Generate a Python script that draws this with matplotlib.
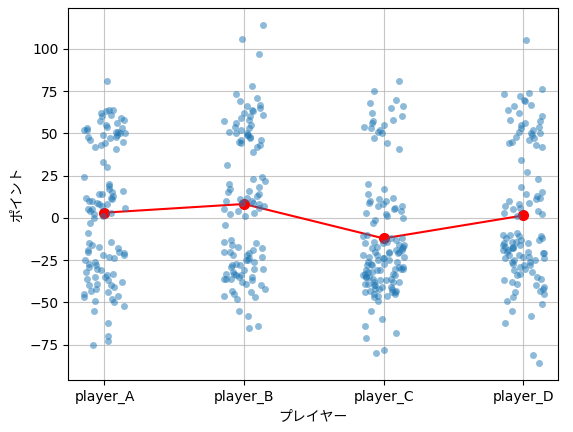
import numpy as np
import pandas as pd
import matplotlib
matplotlib.use("Agg")
import matplotlib.pyplot as plt
import seaborn as sns

# points, one list per player
player_A = [81, 64, 64, 63, 62, 61, 60, 59, 58, 57, 56, 55, 54, 53, 53, 52, 52, 51, 51, 50, 50,
            49, 49, 48, 48, 47, 46, 45, 44, 43, 42, 41,
            33, 30, 24, 20, 19, 17, 16, 15, 14, 14, 13, 12, 12, 11, 10, 10, 9, 8, 8, 7, 6, 5, 5,
            4, 3, 2, 1, 0, -3, -9,
            -14, -15, -16, -17, -18, -19, -20, -20, -21, -22, -22, -23, -24, -25, -26, -27, -28,
            -29, -30, -31, -32, -33, -34, -35, -35, -36, -37, -38, -39, -40, -40, -41, -42, -43,
            -44, -45, -46, -47, -48, -49, -50, -52, -55, -62, -70, -73, -75]
player_B = [114, 106, 97, 78, 73, 71, 69, 67, 66, 65, 64, 63, 62, 61, 60, 59, 58, 57, 56, 55,
            54, 53, 52, 51, 50, 50, 49, 49, 48, 47, 46, 46, 45, 44, 43, 42, 39, 31,
            24, 23, 22, 20, 18, 17, 16, 15, 14, 13, 12, 11, 10, 10, 9, 9, 8, 7, 6, 5, 4, 3, 2, 1, -4,
            -13, -14, -15, -16, -17, -18, -19, -20, -20, -21, -22, -22, -23, -24, -25, -25, -26,
            -27, -28, -28, -29, -30, -30, -31, -32, -33, -33, -34, -34, -35, -35, -36, -36, -36,
            -37, -38, -39, -40, -42, -43, -44, -45, -46, -47, -48, -55, -58, -64, -65]
player_C = [81, 75, 70, 68, 66, 65, 62, 60, 58, 57, 56, 55, 54, 53, 52, 51, 50, 47, 44, 41,
            20, 17, 14, 12, 11, 10, 10, 9, 8, 7, 7, 6, 5, 4, 3, 2, 1, 0, -1, -3,
            -10, -11, -12, -12, -13, -14, -14, -15, -15, -16, -16, -17, -17, -18, -18, -19, -19,
            -20, -20, -20, -21, -21, -22, -22, -23, -23, -24, -24, -25, -25, -26, -26, -27, -27,
            -28, -28, -29, -29, -30, -30, -30, -31, -31, -31, -32, -32, -33, -33, -34, -34, -35,
            -35, -35, -36, -36, -37, -37, -38, -38, -38, -39, -39, -40, -40, -41, -41, -42, -42,
            -42, -43, -43, -44, -44, -44, -45, -45, -46, -46, -47,
            -49, -55, -60, -64, -68, -71, -78, -80]
player_D = [105, 76, 74, 73, 72, 70, 69, 67, 66, 64, 62, 60, 58, 57, 56, 55, 54, 53, 52, 51, 50,
            50, 49, 48, 47, 46, 45, 44, 43, 42,
            34, 27, 23, 18, 15, 14, 13, 12, 11, 10, 9, 8, 7, 6, 5, 4, 3, 2, 1,
            -9, -10, -10, -11, -11, -12, -12, -13, -13, -14, -14, -15, -15, -16, -16, -17, -17,
            -18, -18, -19, -19, -20, -20, -21, -21, -22, -22, -23, -23, -24, -24, -25, -25, -26,
            -26, -27, -28, -28, -29, -30, -31, -32, -33, -34, -35, -36, -37, -38, -39, -40, -41,
            -42, -43, -44, -45, -47, -49, -51, -55, -58, -62, -81, -86]

players = ["player_A", "player_B", "player_C", "player_D"]
values = [player_A, player_B, player_C, player_D]

df = pd.DataFrame({
    "player": np.repeat(players, [len(v) for v in values]),
    "points": np.concatenate(values),
})

plt.rcParams["font.family"] = ["DejaVu Sans", "Noto Sans CJK JP"]

fig, ax = plt.subplots(figsize=(5.73, 4.32), dpi=100)
fig.subplots_adjust(left=0.119, right=0.974, top=0.981, bottom=0.12)

np.random.seed(0)
sns.stripplot(data=df, x="player", y="points", order=players, color="C0",
              alpha=0.5, size=5, linewidth=0, jitter=0.15, ax=ax)

means = df.groupby("player")["points"].mean().reindex(players)
ax.plot(range(len(players)), means.values, color="red", marker="o",
        markersize=7, linewidth=1.5)

ax.grid(True, alpha=0.7)
ax.set_xlim(-0.26, 3.25)
ax.set_ylim(-96, 124)
ax.set_xlabel("プレイヤー")
ax.set_ylabel("ポイント")

fig.savefig("out.png")
